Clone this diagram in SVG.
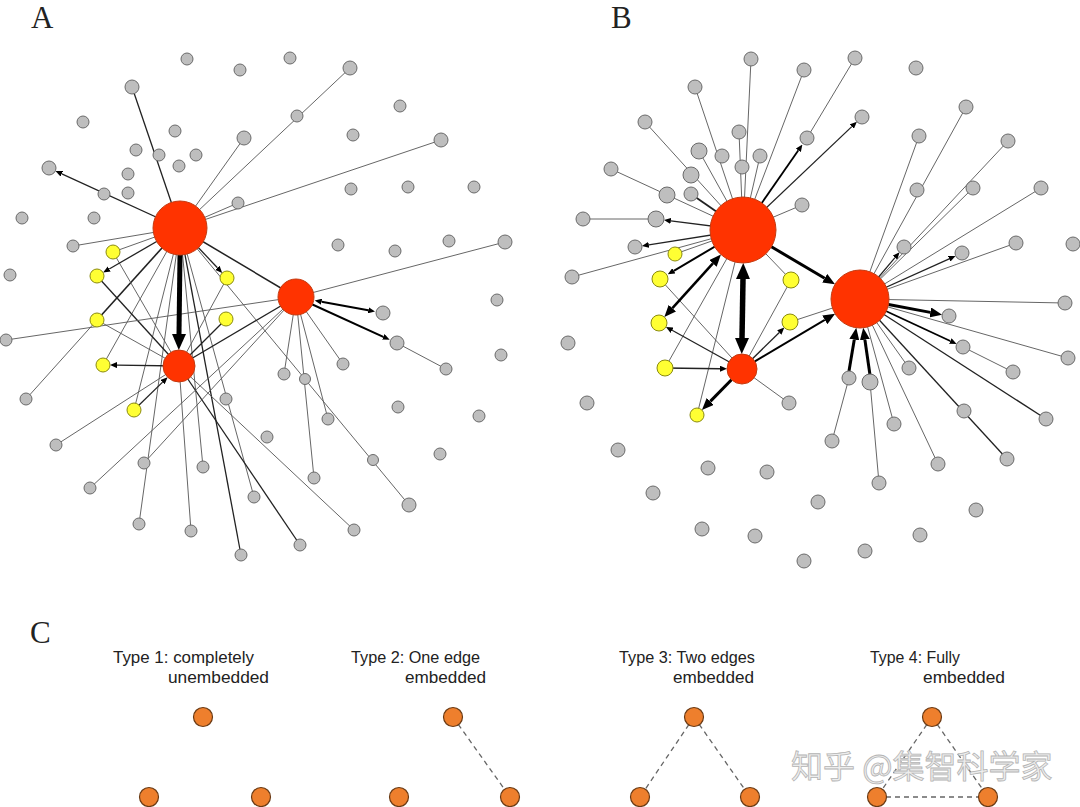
<svg xmlns="http://www.w3.org/2000/svg" width="1080" height="807" viewBox="0 0 1080 807">
<defs>
<style>
.e{stroke:#555;stroke-width:0.9;fill:none}
.ed{stroke:#222;stroke-width:1.3;fill:none}
.ek{stroke:#000;fill:none}
.g{fill:#BEBEBE;stroke:#6A6A6A;stroke-width:1}
.y{fill:#FFFF33;stroke:#8A8A10;stroke-width:1}
.r{fill:#FF3300;stroke:#C43A10;stroke-width:1}
.o{fill:#EE7F2D;stroke:#6A3A14;stroke-width:1.2}
.d{stroke:#666;stroke-width:1.3;stroke-dasharray:5 4;fill:none}
.lab{font-family:"Liberation Serif",serif;font-size:31px;fill:#222}
.t{font-family:"Liberation Sans",Arial,sans-serif;font-size:17px;fill:#222}
.wm{font-family:"Noto Sans CJK SC",sans-serif;font-size:32px;fill:#EDEDED;stroke:#B4B4B4;stroke-width:0.8}
</style>
<marker id="s" viewBox="0 0 7 6" refX="0" refY="3" markerWidth="7" markerHeight="6" markerUnits="userSpaceOnUse" orient="auto-start-reverse"><path d="M0,0L7,3L0,6z" fill="#000"/></marker>
<marker id="m" viewBox="0 0 12 10" refX="0" refY="5" markerWidth="12" markerHeight="10" markerUnits="userSpaceOnUse" orient="auto-start-reverse"><path d="M0,0L12,5L0,10z" fill="#000"/></marker>
<marker id="l" viewBox="0 0 16 14" refX="0" refY="7" markerWidth="16" markerHeight="14" markerUnits="userSpaceOnUse" orient="auto-start-reverse"><path d="M0,0L16,7L0,14z" fill="#000"/></marker>
</defs>
<rect width="1080" height="807" fill="#fff"/>

<text class="lab" x="31" y="28">A</text>
<text class="lab" x="611" y="28">B</text>
<text class="lab" x="30" y="643">C</text>

<g id="connectors">
<!-- Panel A -->
<line class="ed" x1="180" y1="228" x2="132" y2="87"/>
<line class="e" x1="180" y1="228" x2="244" y2="138"/>
<line class="e" x1="180" y1="228" x2="350" y2="68"/>
<line class="e" x1="180" y1="228" x2="441" y2="140"/>
<line class="e" x1="180" y1="228" x2="238" y2="203"/>
<line class="e" x1="180" y1="228" x2="73" y2="246"/>
<line class="e" x1="180" y1="228" x2="113" y2="252"/>
<line class="ed" x1="180" y1="228" x2="97" y2="320" style="stroke-width:1.6"/>
<line class="e" x1="97" y1="320" x2="26" y2="399"/>
<line class="ed" x1="180" y1="228" x2="296" y2="297" style="stroke-width:1.5"/>
<line class="e" x1="180" y1="228" x2="103" y2="365"/>
<line class="e" x1="180" y1="228" x2="134" y2="410"/>
<line class="e" x1="180" y1="228" x2="139" y2="524"/>
<line class="e" x1="180" y1="228" x2="203" y2="467"/>
<line class="ed" x1="180" y1="228" x2="241" y2="555"/>
<line class="e" x1="180" y1="228" x2="254" y2="497"/>
<line class="e" x1="180" y1="228" x2="409" y2="505"/>
<line class="ed" x1="97" y1="276" x2="179" y2="366"/>
<line class="e" x1="113" y1="252" x2="179" y2="366"/>
<line class="e" x1="227" y1="278" x2="179" y2="366"/>
<line class="ed" x1="226" y1="319" x2="179" y2="366"/>
<line class="e" x1="97" y1="320" x2="179" y2="366"/>
<line class="e" x1="179" y1="366" x2="56" y2="445"/>
<line class="e" x1="179" y1="366" x2="191" y2="531"/>
<line class="e" x1="179" y1="366" x2="354" y2="530"/>
<line class="ed" x1="179" y1="366" x2="300" y2="545"/>
<line class="ed" x1="179" y1="366" x2="296" y2="297"/>
<line class="e" x1="6" y1="340" x2="296" y2="297"/>
<line class="e" x1="90" y1="488" x2="296" y2="297"/>
<line class="e" x1="144" y1="463" x2="296" y2="297"/>
<line class="e" x1="296" y1="297" x2="505" y2="242"/>
<line class="e" x1="296" y1="297" x2="343" y2="364"/>
<line class="e" x1="296" y1="297" x2="284" y2="374"/>
<line class="e" x1="296" y1="297" x2="314" y2="478"/>
<line class="e" x1="296" y1="297" x2="328" y2="419"/>
<line class="e" x1="397" y1="343" x2="446" y2="369"/>
<!-- A arrows -->
<line class="ek" x1="180" y1="255" x2="179" y2="334" style="stroke-width:5" marker-end="url(#l)"/>
<line class="ed" x1="180" y1="228" x2="61.8" y2="173.8" marker-end="url(#s)"/>
<line class="ed" x1="180" y1="228" x2="109.2" y2="269" marker-end="url(#s)"/>
<line class="ed" x1="180" y1="228" x2="217.4" y2="267.8" marker-end="url(#s)"/>
<line class="ed" x1="179" y1="366" x2="117" y2="365.1" marker-end="url(#s)"/>
<line class="ed" x1="134" y1="410" x2="162.6" y2="382.1" marker-end="url(#s)"/>
<line class="ek" x1="321.6" y1="301.7" x2="368.2" y2="310.3" style="stroke-width:2" marker-start="url(#s)" marker-end="url(#s)"/>
<line class="ek" x1="296" y1="297" x2="383.3" y2="336.8" style="stroke-width:2" marker-end="url(#s)"/>

<!-- Panel B -->
<line class="e" x1="743" y1="230" x2="751" y2="59"/>
<line class="e" x1="743" y1="230" x2="804" y2="70"/>
<line class="e" x1="743" y1="230" x2="695" y2="87"/>
<line class="e" x1="743" y1="230" x2="645" y2="122"/>
<line class="e" x1="743" y1="230" x2="739" y2="132"/>
<line class="e" x1="743" y1="230" x2="699" y2="151"/>
<line class="e" x1="743" y1="230" x2="760" y2="156"/>
<line class="e" x1="743" y1="230" x2="611" y2="169"/>
<line class="ed" x1="743" y1="230" x2="691" y2="194" style="stroke-width:1.8"/>
<line class="e" x1="656" y1="219" x2="583" y2="219"/>
<line class="e" x1="743" y1="230" x2="572" y2="277"/>
<line class="e" x1="743" y1="230" x2="675" y2="254"/>
<line class="e" x1="743" y1="230" x2="665" y2="368"/>
<line class="e" x1="743" y1="230" x2="697" y2="415"/>
<line class="e" x1="743" y1="230" x2="791" y2="280"/>
<line class="e" x1="807" y1="138" x2="855" y2="58"/>
<line class="e" x1="743" y1="230" x2="802" y2="205"/>
<line class="e" x1="742" y1="369" x2="660" y2="279"/>
<line class="e" x1="742" y1="369" x2="789" y2="403"/>
<line class="e" x1="742" y1="369" x2="791" y2="280"/>
<line class="e" x1="790" y1="322" x2="860" y2="299"/>
<line class="e" x1="860" y1="299" x2="919" y2="136"/>
<line class="e" x1="860" y1="299" x2="966" y2="107"/>
<line class="e" x1="860" y1="299" x2="1008" y2="141"/>
<line class="e" x1="860" y1="299" x2="973" y2="188"/>
<line class="e" x1="860" y1="299" x2="1041" y2="188"/>
<line class="e" x1="860" y1="299" x2="1016" y2="243"/>
<line class="e" x1="860" y1="299" x2="1065" y2="303"/>
<line class="e" x1="860" y1="299" x2="1068" y2="358"/>
<line class="e" x1="963" y1="347" x2="1013" y2="372"/>
<line class="e" x1="860" y1="299" x2="909" y2="368"/>
<line class="e" x1="849" y1="378" x2="832" y2="441"/>
<line class="e" x1="870" y1="382" x2="879" y2="483"/>
<line class="ed" x1="860" y1="299" x2="1007" y2="459"/>
<line class="ed" x1="860" y1="299" x2="1046" y2="419"/>
<line class="e" x1="860" y1="299" x2="894" y2="424"/>
<line class="e" x1="860" y1="299" x2="938" y2="464"/>
<!-- B arrows -->
<line class="ek" x1="743" y1="279" x2="742" y2="338" style="stroke-width:5.5" marker-start="url(#l)" marker-end="url(#l)"/>
<line class="ek" x1="771.4" y1="246.8" x2="824.7" y2="278.2" style="stroke-width:3" marker-end="url(#m)"/>
<line class="ek" x1="888.5" y1="304.5" x2="930.3" y2="312.4" style="stroke-width:3" marker-end="url(#m)"/>
<line class="ek" x1="712.9" y1="263.4" x2="672.4" y2="308.2" style="stroke-width:2.5" marker-start="url(#m)" marker-end="url(#m)"/>
<line class="ek" x1="731.5" y1="379.7" x2="710.3" y2="401.4" style="stroke-width:3" marker-end="url(#m)"/>
<line class="ek" x1="754.9" y1="361.3" x2="824.8" y2="319.9" style="stroke-width:2" marker-end="url(#m)"/>
<line class="ek" x1="849" y1="371" x2="854.3" y2="339.6" style="stroke-width:3" marker-end="url(#m)"/>
<line class="ek" x1="870" y1="375" x2="864.9" y2="339.7" style="stroke-width:3" marker-end="url(#m)"/>
<line class="ek" x1="743" y1="230" x2="798.4" y2="150.3" style="stroke-width:1.8" marker-end="url(#s)"/>
<line class="ek" x1="743" y1="230" x2="673.8" y2="270.8" style="stroke-width:2" marker-end="url(#s)"/>
<line class="ed" x1="743" y1="230" x2="851.8" y2="126.6" marker-end="url(#s)"/>
<line class="ed" x1="743" y1="230" x2="670.8" y2="220.9" marker-end="url(#s)"/>
<line class="ed" x1="743" y1="230" x2="648.8" y2="244.8" marker-end="url(#s)"/>
<line class="ed" x1="742" y1="369" x2="672.1" y2="330.3" marker-end="url(#s)"/>
<line class="ed" x1="665" y1="368" x2="720" y2="368.7" style="stroke-width:1.6" marker-end="url(#s)"/>
<line class="ed" x1="742" y1="369" x2="779.3" y2="332.5" marker-end="url(#s)"/>
<line class="ed" x1="860" y1="299" x2="895" y2="257.6" marker-end="url(#s)"/>
<line class="ed" x1="860" y1="299" x2="949.2" y2="258.8" marker-end="url(#s)"/>
<line class="ek" x1="860" y1="299" x2="950.3" y2="341" style="stroke-width:1.8" marker-end="url(#s)"/>

<!-- Panel C dashed -->
<line class="d" x1="453" y1="717" x2="510" y2="797"/>
<line class="d" x1="694" y1="717" x2="640" y2="797"/>
<line class="d" x1="694" y1="717" x2="750" y2="797"/>
<line class="d" x1="932" y1="717" x2="877" y2="797"/>
<line class="d" x1="932" y1="717" x2="988" y2="797"/>
<line class="d" x1="877" y1="797" x2="988" y2="797"/>
</g>

<g id="nodesA">
<g id="a-h1"><circle class="r" cx="180" cy="228" r="27"/></g>
<g id="a-h2"><circle class="r" cx="179" cy="366" r="16"/></g>
<g id="a-h3"><circle class="r" cx="296" cy="297" r="18"/></g>
<g id="a-g1"><circle class="g" cx="187" cy="59" r="6"/></g>
<g id="a-g2"><circle class="g" cx="240" cy="70" r="6"/></g>
<g id="a-g3"><circle class="g" cx="132" cy="87" r="7"/></g>
<g id="a-g4"><circle class="g" cx="83" cy="122" r="6"/></g>
<g id="a-g5"><circle class="g" cx="175" cy="131" r="6"/></g>
<g id="a-g6"><circle class="g" cx="244" cy="138" r="7"/></g>
<g id="a-g7"><circle class="g" cx="136" cy="150" r="6"/></g>
<g id="a-g8"><circle class="g" cx="159" cy="155" r="6"/></g>
<g id="a-g9"><circle class="g" cx="196" cy="155" r="6"/></g>
<g id="a-g10"><circle class="g" cx="179" cy="166" r="6"/></g>
<g id="a-g11"><circle class="g" cx="49" cy="168" r="7"/></g>
<g id="a-g12"><circle class="g" cx="128" cy="174" r="6"/></g>
<g id="a-g13"><circle class="g" cx="128" cy="193" r="6"/></g>
<g id="a-g14"><circle class="g" cx="104" cy="194" r="6"/></g>
<g id="a-g15"><circle class="g" cx="238" cy="203" r="6"/></g>
<g id="a-g16"><circle class="g" cx="22" cy="218" r="6"/></g>
<g id="a-g17"><circle class="g" cx="94" cy="218" r="6"/></g>
<g id="a-g18"><circle class="g" cx="73" cy="246" r="6"/></g>
<g id="a-g19"><circle class="g" cx="10" cy="275" r="6"/></g>
<g id="a-g20"><circle class="g" cx="290" cy="58" r="6"/></g>
<g id="a-g21"><circle class="g" cx="350" cy="68" r="7"/></g>
<g id="a-g22"><circle class="g" cx="400" cy="106" r="6"/></g>
<g id="a-g23"><circle class="g" cx="297" cy="116" r="6"/></g>
<g id="a-g24"><circle class="g" cx="353" cy="135" r="6"/></g>
<g id="a-g25"><circle class="g" cx="441" cy="140" r="7"/></g>
<g id="a-g26"><circle class="g" cx="351" cy="189" r="6"/></g>
<g id="a-g27"><circle class="g" cx="408" cy="187" r="6"/></g>
<g id="a-g28"><circle class="g" cx="474" cy="187" r="6"/></g>
<g id="a-g29"><circle class="g" cx="338" cy="245" r="6"/></g>
<g id="a-g30"><circle class="g" cx="395" cy="251" r="6"/></g>
<g id="a-g31"><circle class="g" cx="449" cy="241" r="6"/></g>
<g id="a-g32"><circle class="g" cx="505" cy="242" r="7"/></g>
<g id="a-g33"><circle class="g" cx="6" cy="340" r="6"/></g>
<g id="a-g34"><circle class="g" cx="26" cy="399" r="6"/></g>
<g id="a-g35"><circle class="g" cx="226" cy="399" r="6"/></g>
<g id="a-g36"><circle class="g" cx="56" cy="445" r="6"/></g>
<g id="a-g37"><circle class="g" cx="144" cy="463" r="6"/></g>
<g id="a-g38"><circle class="g" cx="203" cy="467" r="6"/></g>
<g id="a-g39"><circle class="g" cx="90" cy="488" r="6"/></g>
<g id="a-g40"><circle class="g" cx="254" cy="497" r="6"/></g>
<g id="a-g41"><circle class="g" cx="267" cy="437" r="6"/></g>
<g id="a-g42"><circle class="g" cx="139" cy="524" r="6"/></g>
<g id="a-g43"><circle class="g" cx="191" cy="531" r="6"/></g>
<g id="a-g44"><circle class="g" cx="241" cy="555" r="6"/></g>
<g id="a-g45"><circle class="g" cx="497" cy="300" r="6"/></g>
<g id="a-g46"><circle class="g" cx="383" cy="313" r="7"/></g>
<g id="a-g47"><circle class="g" cx="397" cy="343" r="7"/></g>
<g id="a-g48"><circle class="g" cx="446" cy="369" r="6"/></g>
<g id="a-g49"><circle class="g" cx="501" cy="355" r="6"/></g>
<g id="a-g50"><circle class="g" cx="343" cy="364" r="6"/></g>
<g id="a-g51"><circle class="g" cx="284" cy="374" r="6"/></g>
<g id="a-g52"><circle class="g" cx="305" cy="379" r="5.5"/></g>
<g id="a-g53"><circle class="g" cx="398" cy="407" r="6"/></g>
<g id="a-g54"><circle class="g" cx="479" cy="416" r="6"/></g>
<g id="a-g55"><circle class="g" cx="328" cy="419" r="6"/></g>
<g id="a-g56"><circle class="g" cx="373" cy="460" r="5.5"/></g>
<g id="a-g57"><circle class="g" cx="440" cy="454" r="6"/></g>
<g id="a-g58"><circle class="g" cx="314" cy="478" r="6"/></g>
<g id="a-g59"><circle class="g" cx="409" cy="505" r="7"/></g>
<g id="a-g60"><circle class="g" cx="354" cy="530" r="6"/></g>
<g id="a-g61"><circle class="g" cx="300" cy="545" r="6"/></g>
<g id="a-y1"><circle class="y" cx="113" cy="252" r="7"/></g>
<g id="a-y2"><circle class="y" cx="97" cy="276" r="7"/></g>
<g id="a-y3"><circle class="y" cx="227" cy="278" r="7"/></g>
<g id="a-y4"><circle class="y" cx="97" cy="320" r="7"/></g>
<g id="a-y5"><circle class="y" cx="226" cy="319" r="7"/></g>
<g id="a-y6"><circle class="y" cx="103" cy="365" r="7"/></g>
<g id="a-y7"><circle class="y" cx="134" cy="410" r="7"/></g>
</g>

<g id="nodesB">
<g id="b-h1"><circle class="r" cx="743" cy="230" r="33"/></g>
<g id="b-h2"><circle class="r" cx="860" cy="299" r="29"/></g>
<g id="b-h3"><circle class="r" cx="742" cy="369" r="15"/></g>
<g id="b-g1"><circle class="g" cx="751" cy="59" r="7"/></g>
<g id="b-g2"><circle class="g" cx="804" cy="70" r="7"/></g>
<g id="b-g3"><circle class="g" cx="695" cy="87" r="7"/></g>
<g id="b-g4"><circle class="g" cx="645" cy="122" r="7"/></g>
<g id="b-g5"><circle class="g" cx="739" cy="132" r="7"/></g>
<g id="b-g6"><circle class="g" cx="807" cy="138" r="7"/></g>
<g id="b-g7"><circle class="g" cx="699" cy="151" r="8"/></g>
<g id="b-g8"><circle class="g" cx="722" cy="156" r="7"/></g>
<g id="b-g9"><circle class="g" cx="760" cy="156" r="7"/></g>
<g id="b-g10"><circle class="g" cx="611" cy="169" r="7"/></g>
<g id="b-g11"><circle class="g" cx="742" cy="167" r="7"/></g>
<g id="b-g12"><circle class="g" cx="691" cy="175" r="8"/></g>
<g id="b-g13"><circle class="g" cx="667" cy="195" r="8"/></g>
<g id="b-g14"><circle class="g" cx="691" cy="194" r="7"/></g>
<g id="b-g15"><circle class="g" cx="802" cy="205" r="7"/></g>
<g id="b-g16"><circle class="g" cx="583" cy="219" r="7"/></g>
<g id="b-g17"><circle class="g" cx="656" cy="219" r="8"/></g>
<g id="b-g18"><circle class="g" cx="635" cy="247" r="7"/></g>
<g id="b-g19"><circle class="g" cx="572" cy="277" r="7"/></g>
<g id="b-g20"><circle class="g" cx="855" cy="58" r="7"/></g>
<g id="b-g21"><circle class="g" cx="916" cy="68" r="7"/></g>
<g id="b-g22"><circle class="g" cx="862" cy="117" r="7"/></g>
<g id="b-g23"><circle class="g" cx="966" cy="107" r="7"/></g>
<g id="b-g24"><circle class="g" cx="919" cy="136" r="7"/></g>
<g id="b-g25"><circle class="g" cx="1008" cy="141" r="7"/></g>
<g id="b-g26"><circle class="g" cx="917" cy="190" r="7"/></g>
<g id="b-g27"><circle class="g" cx="973" cy="188" r="7"/></g>
<g id="b-g28"><circle class="g" cx="1041" cy="188" r="7"/></g>
<g id="b-g29"><circle class="g" cx="904" cy="247" r="7"/></g>
<g id="b-g30"><circle class="g" cx="962" cy="253" r="7"/></g>
<g id="b-g31"><circle class="g" cx="1016" cy="243" r="7"/></g>
<g id="b-g32"><circle class="g" cx="1073" cy="244" r="7"/></g>
<g id="b-g33"><circle class="g" cx="568" cy="343" r="7"/></g>
<g id="b-g34"><circle class="g" cx="587" cy="403" r="7"/></g>
<g id="b-g35"><circle class="g" cx="789" cy="403" r="7"/></g>
<g id="b-g36"><circle class="g" cx="618" cy="450" r="7"/></g>
<g id="b-g37"><circle class="g" cx="708" cy="468" r="7"/></g>
<g id="b-g38"><circle class="g" cx="767" cy="472" r="7"/></g>
<g id="b-g39"><circle class="g" cx="653" cy="493" r="7"/></g>
<g id="b-g40"><circle class="g" cx="702" cy="529" r="7"/></g>
<g id="b-g41"><circle class="g" cx="755" cy="536" r="7"/></g>
<g id="b-g42"><circle class="g" cx="804" cy="561" r="7"/></g>
<g id="b-g43"><circle class="g" cx="1065" cy="303" r="7"/></g>
<g id="b-g44"><circle class="g" cx="949" cy="316" r="7"/></g>
<g id="b-g45"><circle class="g" cx="1068" cy="358" r="7"/></g>
<g id="b-g46"><circle class="g" cx="963" cy="347" r="7"/></g>
<g id="b-g47"><circle class="g" cx="1013" cy="372" r="7"/></g>
<g id="b-g48"><circle class="g" cx="909" cy="368" r="7"/></g>
<g id="b-g49"><circle class="g" cx="849" cy="378" r="7"/></g>
<g id="b-g50"><circle class="g" cx="870" cy="382" r="8"/></g>
<g id="b-g51"><circle class="g" cx="964" cy="411" r="7"/></g>
<g id="b-g52"><circle class="g" cx="1046" cy="419" r="7"/></g>
<g id="b-g53"><circle class="g" cx="894" cy="424" r="7"/></g>
<g id="b-g54"><circle class="g" cx="832" cy="441" r="7"/></g>
<g id="b-g55"><circle class="g" cx="938" cy="464" r="7"/></g>
<g id="b-g56"><circle class="g" cx="1007" cy="459" r="7"/></g>
<g id="b-g57"><circle class="g" cx="879" cy="483" r="7"/></g>
<g id="b-g58"><circle class="g" cx="818" cy="502" r="7"/></g>
<g id="b-g59"><circle class="g" cx="976" cy="510" r="7"/></g>
<g id="b-g60"><circle class="g" cx="920" cy="535" r="7"/></g>
<g id="b-g61"><circle class="g" cx="865" cy="551" r="7"/></g>
<g id="b-y1"><circle class="y" cx="675" cy="254" r="7"/></g>
<g id="b-y2"><circle class="y" cx="660" cy="279" r="8"/></g>
<g id="b-y3"><circle class="y" cx="791" cy="280" r="8"/></g>
<g id="b-y4"><circle class="y" cx="659" cy="323" r="8"/></g>
<g id="b-y5"><circle class="y" cx="790" cy="322" r="8"/></g>
<g id="b-y6"><circle class="y" cx="665" cy="368" r="8"/></g>
<g id="b-y7"><circle class="y" cx="697" cy="415" r="7"/></g>
</g>

<g id="panelC">
<text class="t" x="113" y="663" textLength="141" lengthAdjust="spacingAndGlyphs">Type 1: completely</text>
<text class="t" x="168" y="683" textLength="101" lengthAdjust="spacingAndGlyphs">unembedded</text>
<text class="t" x="351" y="663" textLength="129" lengthAdjust="spacingAndGlyphs">Type 2: One edge</text>
<text class="t" x="405" y="683" textLength="81" lengthAdjust="spacingAndGlyphs">embedded</text>
<text class="t" x="619" y="663" textLength="136" lengthAdjust="spacingAndGlyphs">Type 3: Two edges</text>
<text class="t" x="673" y="683" textLength="81" lengthAdjust="spacingAndGlyphs">embedded</text>
<text class="t" x="870" y="663" textLength="90" lengthAdjust="spacingAndGlyphs">Type 4: Fully</text>
<text class="t" x="923" y="683" textLength="82" lengthAdjust="spacingAndGlyphs">embedded</text>
<g id="c1-a"><circle class="o" cx="203" cy="717" r="9.5"/></g>
<g id="c1-b"><circle class="o" cx="149" cy="797" r="9.5"/></g>
<g id="c1-c"><circle class="o" cx="261" cy="797" r="9.5"/></g>
<g id="c2-a"><circle class="o" cx="453" cy="717" r="9.5"/></g>
<g id="c2-b"><circle class="o" cx="399" cy="797" r="9.5"/></g>
<g id="c2-c"><circle class="o" cx="510" cy="797" r="9.5"/></g>
<g id="c3-a"><circle class="o" cx="694" cy="717" r="9.5"/></g>
<g id="c3-b"><circle class="o" cx="640" cy="797" r="9.5"/></g>
<g id="c3-c"><circle class="o" cx="750" cy="797" r="9.5"/></g>
<g id="c4-a"><circle class="o" cx="932" cy="717" r="9.5"/></g>
<g id="c4-b"><circle class="o" cx="877" cy="797" r="9.5"/></g>
<g id="c4-c"><circle class="o" cx="988" cy="797" r="9.5"/></g>
</g>

<text class="wm" x="791" y="778">知乎 @集智科学家</text>
</svg>
